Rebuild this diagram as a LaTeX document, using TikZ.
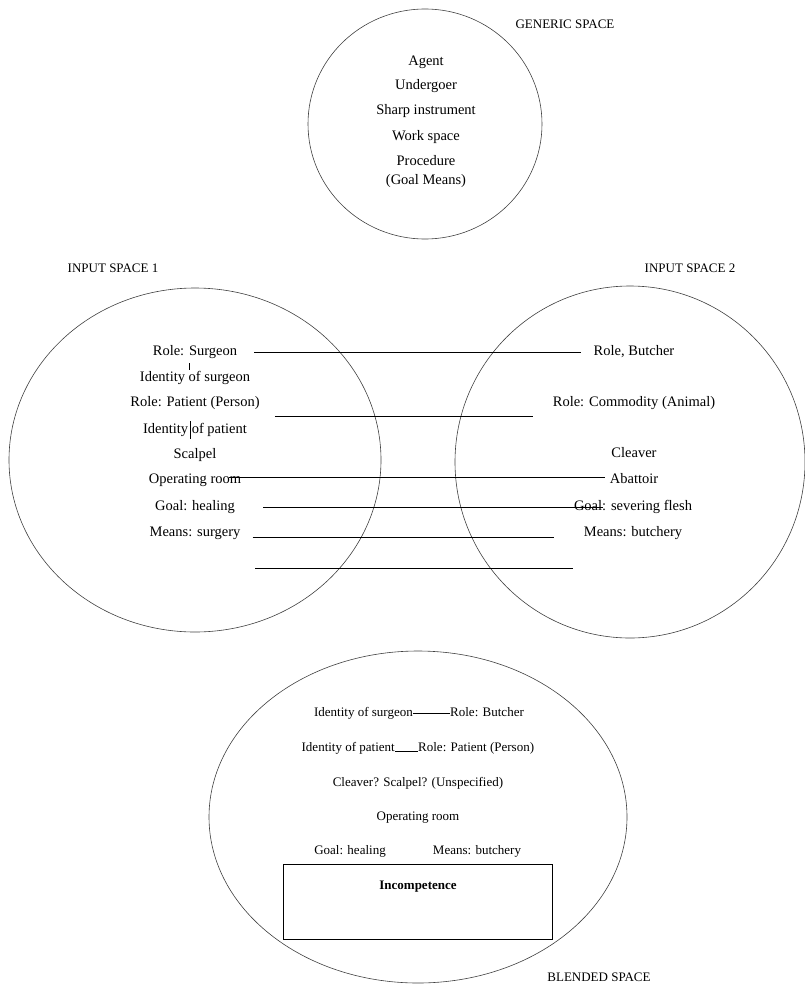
\documentclass[tikz,border=0pt]{standalone}
\usepackage{fontspec}
\setmainfont{Liberation Serif}
\tikzset{txt/.style={inner sep=0pt, text height=10pt, text depth=3pt, font=\fontsize{14.5}{17}\selectfont}}
\tikzset{btxt/.style={inner sep=0pt, text height=9pt, text depth=3pt, font=\fontsize{13}{15}\selectfont}}
\tikzset{lbl/.style={inner sep=0pt, font=\fontsize{13}{15}\selectfont}}
\tikzset{space/.style={line width=0.6pt, black!75}}
\tikzset{link/.style={line width=0.6pt}}
\begin{document}
\begin{tikzpicture}[x=1pt,y=-1pt]
    \useasboundingbox (0,0) rectangle (805,985);

    \draw[space] (425,124) ellipse [x radius=117pt, y radius=115pt];
    \draw[space] (195,460) ellipse [x radius=186pt, y radius=172pt];
    \draw[space] (630,462) ellipse [x radius=175pt, y radius=176pt];
    \draw[space] (418,817) ellipse [x radius=209pt, y radius=166pt];

    \node[lbl] (generic) at (565,24) {GENERIC SPACE};
    \node[lbl] (inputa) at (113,268) {INPUT SPACE 1};
    \node[lbl] (inputb) at (690,268) {INPUT SPACE 2};
    \node[lbl] (blended) at (599,977) {BLENDED SPACE};

    \node[txt] (agent) at (426,62) {Agent};
    \node[txt] (undergoer) at (426,86) {Undergoer};
    \node[txt] (sharp) at (426,111) {Sharp instrument};
    \node[txt] (workspace) at (426,137) {Work space};
    \node[txt] (procedure) at (426,162) {Procedure};
    \node[txt] (goalmeans) at (426,181) {(Goal Means)};

    \node[txt] (rsurgeon) at (195,352) {Role: Surgeon};
    \node[txt] (isurgeon) at (195,378) {Identity of surgeon};
    \node[txt] (rpatient) at (195,403) {Role: Patient (Person)};
    \node[txt] (ipatient) at (195,430) {Identity of patient};
    \node[txt] (scalpel) at (195,455) {Scalpel};
    \node[txt] (oproom) at (195,480) {Operating room};
    \node[txt] (ghealing) at (195,507) {Goal: healing};
    \node[txt] (msurgery) at (195,533) {Means: surgery};

    \node[txt] (rbutcher) at (634,352) {Role, Butcher};
    \node[txt] (rcommodity) at (634,403) {Role: Commodity (Animal)};
    \node[txt] (cleaver) at (634,454) {Cleaver};
    \node[txt] (abattoir) at (634,480) {Abattoir};
    \node[txt] (gsevering) at (633,507) {Goal: severing flesh};
    \node[txt] (mbutchery) at (633,533) {Means: butchery};

    \coordinate (freea) at (255,568);
    \coordinate (freeb) at (573,568);

    \draw[link] ([xshift=17pt]rsurgeon.east) -- ([xshift=-13pt]rbutcher.west);
    \draw[link] ([shift={(15pt,-13pt)}]rpatient.east) -- ([shift={(-20pt,-13pt)}]rcommodity.west);
    \draw[link] ([shift={(-12pt,3pt)}]oproom.east) -- ([shift={(-5pt,3pt)}]abattoir.west);
    \draw[link] ([xshift=28pt]ghealing.east) -- ([xshift=29pt]gsevering.west);
    \draw[link] ([shift={(12pt,-4pt)}]msurgery.east) -- ([shift={(-30pt,-4pt)}]mbutchery.west);
    \draw[link] (freea) -- (freeb);
    \draw[link] (189,363) -- (189,370);
    \draw[link] (190,421) -- (190,439);

    \node[btxt, anchor=east] (bisurgeon) at (413,713) {Identity of surgeon};
    \node[btxt, anchor=west] (brbutcher) at (450,713) {Role: Butcher};
    \node[btxt, anchor=east] (bipatient) at (395,748) {Identity of patient};
    \node[btxt, anchor=west] (brpatient) at (418,748) {Role: Patient (Person)};
    \node[btxt] (bcleaver) at (418,783) {Cleaver? Scalpel? (Unspecified)};
    \node[btxt] (boproom) at (418,817) {Operating room};
    \node[btxt] (bghealing) at (350,851) {Goal: healing};
    \node[btxt] (bmbutchery) at (477,851) {Means: butchery};
    \node[draw, link, minimum width=269pt, minimum height=75pt] (incbox) at (417.5,901.5) {};
    \node[btxt, font=\fontsize{13}{15}\selectfont\bfseries] (incompetence) at (418,886) {Incompetence};

    \draw[link] (bisurgeon.east) -- (brbutcher.west);
    \draw[link] (bipatient.base east) -- (brpatient.base west);
\end{tikzpicture}
\end{document}
